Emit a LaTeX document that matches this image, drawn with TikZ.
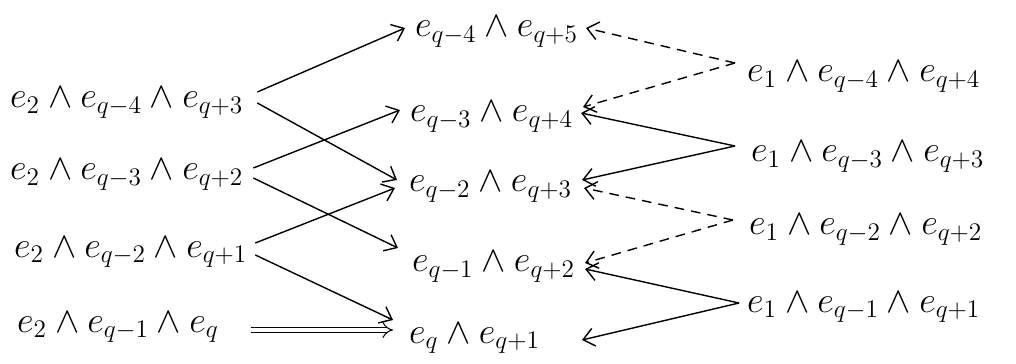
\documentclass[tikz,border=0pt]{standalone}
\usetikzlibrary{arrows.meta}
\begin{document}
\begin{tikzpicture}[x=0.02cm, y=-0.02cm, font=\fontsize{22}{26}\selectfont,
  term/.style={inner sep=1pt, anchor=base west},
  a/.style={line width=0.8pt, -{Straight Barb[length=2.2mm, width=3.6mm]}},
  da/.style={a, dash pattern=on 5.5pt off 4pt},
  aa/.style={line width=0.6pt, double, double distance=2.6pt, -{Implies}}]
  \useasboundingbox (0,0) rectangle (1016,364);
  % left column
  \node[term] (l1) at (8,108) {$e_2\wedge e_{q-4}\wedge e_{q+3}$};
  \node[term] (l2) at (8,180) {$e_2\wedge e_{q-3}\wedge e_{q+2}$};
  \node[term] (l3) at (12,257) {$e_2\wedge e_{q-2}\wedge e_{q+1}$};
  \node[term] (l4) at (15,332) {$e_2\wedge e_{q-1}\wedge e_{q}$};
  % middle column
  \node[term] (m1) at (413,37) {$e_{q-4}\wedge e_{q+5}$};
  \node[term] (m2) at (408,122) {$e_{q-3}\wedge e_{q+4}$};
  \node[term] (m3) at (407,192) {$e_{q-2}\wedge e_{q+3}$};
  \node[term] (m4) at (410,272) {$e_{q-1}\wedge e_{q+2}$};
  \node[term] (m5) at (407,343) {$e_{q}\wedge e_{q+1}$};
  % right column
  \node[term] (r1) at (745,82) {$e_1\wedge e_{q-4}\wedge e_{q+4}$};
  \node[term] (r2) at (749,162) {$e_1\wedge e_{q-3}\wedge e_{q+3}$};
  \node[term] (r3) at (747,235) {$e_1\wedge e_{q-2}\wedge e_{q+2}$};
  \node[term] (r4) at (745,312) {$e_1\wedge e_{q-1}\wedge e_{q+1}$};
  \coordinate (r1s) at ([shift={(-10,-19)}]r1.base west);
  \coordinate (r2s) at ([shift={(-14,-16)}]r2.base west);
  \coordinate (r3s) at ([shift={(-14,-15)}]r3.base west);
  \coordinate (r4s) at ([shift={(-6,-9)}]r4.base west);
  % left to middle
  \draw[a] ([shift={(12,-16)}]l1.base east) -- ([shift={(-8,-9)}]m1.base west);
  \draw[a] ([shift={(12,-5)}]l1.base east) -- ([shift={(-10,-12)}]m3.base west);
  \draw[a] ([shift={(8,-12)}]l2.base east) -- ([shift={(-8,-12)}]m2.base west);
  \draw[a] ([shift={(8,-2)}]l2.base east) -- ([shift={(-12,-24)}]m4.base west);
  \draw[a] ([shift={(6,-14)}]l3.base east) -- ([shift={(-12,-4)}]m3.base west);
  \draw[a] ([shift={(6,-2)}]l3.base east) -- ([shift={(-14,-23)}]m5.base west);
  \draw[aa] ([shift={(30,-2)}]l4.base east) -- ([shift={(-14,-13)}]m5.base west);
  % right to middle
  \draw[da] (r1s) -- ([shift={(6,-9)}]m1.base east);
  \draw[da] (r1s) -- ([shift={(8,-15)}]m2.base east);
  \draw[a] (r2s) -- ([shift={(6,-9)}]m2.base east);
  \draw[a] (r2s) -- ([shift={(8,-12)}]m3.base east);
  \draw[da] (r3s) -- ([shift={(10,-4)}]m3.base east);
  \draw[da] (r3s) -- ([shift={(8,-9)}]m4.base east);
  \draw[a] (r4s) -- ([shift={(8,-3)}]m4.base east);
  \draw[a] (r4s) -- ([shift={(40,-3)}]m5.base east);
\end{tikzpicture}
\end{document}
